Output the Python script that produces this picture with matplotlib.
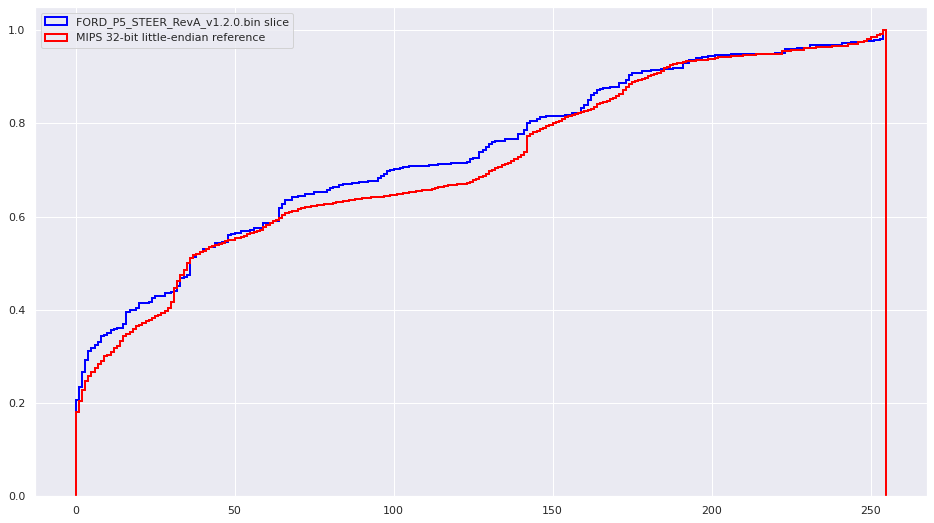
import numpy as np
import matplotlib
matplotlib.use("Agg")
import matplotlib.pyplot as plt
import seaborn as sns

# byte value bins 0..255
edges = np.arange(256)

# cumulative fraction of bytes <= value, one per bin
ford_cdf = [
    0.207, 0.235, 0.267, 0.293, 0.312, 0.318, 0.325, 0.331, 0.343, 0.346,
    0.349, 0.356, 0.359, 0.361, 0.361, 0.369, 0.396, 0.399, 0.400, 0.404,
    0.414, 0.415, 0.415, 0.416, 0.426, 0.429, 0.430, 0.430, 0.435, 0.436,
    0.438, 0.440, 0.450, 0.468, 0.470, 0.475, 0.510, 0.514, 0.519, 0.523,
    0.531, 0.531, 0.535, 0.535, 0.543, 0.543, 0.545, 0.545, 0.560, 0.563,
    0.565, 0.565, 0.568, 0.568, 0.568, 0.572, 0.575, 0.575, 0.575, 0.587,
    0.587, 0.587, 0.590, 0.590, 0.618, 0.626, 0.636, 0.636, 0.642, 0.642,
    0.645, 0.645, 0.649, 0.649, 0.649, 0.652, 0.652, 0.652, 0.652, 0.658,
    0.661, 0.663, 0.663, 0.668, 0.670, 0.670, 0.670, 0.672, 0.672, 0.674,
    0.674, 0.674, 0.676, 0.676, 0.676, 0.682, 0.687, 0.692, 0.697, 0.700,
    0.702, 0.702, 0.704, 0.706, 0.706, 0.708, 0.708, 0.709, 0.709, 0.709,
    0.709, 0.711, 0.711, 0.711, 0.712, 0.712, 0.712, 0.712, 0.714, 0.714,
    0.714, 0.714, 0.714, 0.718, 0.723, 0.725, 0.725, 0.739, 0.742, 0.750,
    0.756, 0.760, 0.763, 0.763, 0.763, 0.767, 0.767, 0.767, 0.767, 0.778,
    0.778, 0.786, 0.800, 0.806, 0.806, 0.810, 0.813, 0.813, 0.815, 0.815,
    0.815, 0.817, 0.817, 0.817, 0.818, 0.818, 0.823, 0.823, 0.823, 0.834,
    0.840, 0.850, 0.861, 0.866, 0.871, 0.873, 0.876, 0.876, 0.878, 0.878,
    0.878, 0.887, 0.887, 0.893, 0.905, 0.909, 0.909, 0.909, 0.912, 0.912,
    0.912, 0.914, 0.914, 0.914, 0.916, 0.916, 0.916, 0.916, 0.920, 0.920,
    0.920, 0.930, 0.930, 0.936, 0.936, 0.940, 0.940, 0.942, 0.943, 0.945,
    0.945, 0.947, 0.947, 0.947, 0.947, 0.947, 0.949, 0.949, 0.949, 0.949,
    0.949, 0.950, 0.950, 0.950, 0.950, 0.950, 0.950, 0.950, 0.950, 0.950,
    0.952, 0.952, 0.952, 0.960, 0.960, 0.960, 0.960, 0.963, 0.963, 0.963,
    0.963, 0.968, 0.968, 0.968, 0.968, 0.968, 0.969, 0.969, 0.969, 0.969,
    0.969, 0.972, 0.972, 0.972, 0.974, 0.974, 0.974, 0.974, 0.976, 0.976,
    0.976, 0.979, 0.979, 0.982, 1.000,
]

mips_cdf = [
    0.181, 0.203, 0.228, 0.247, 0.257, 0.267, 0.275, 0.284, 0.290, 0.300,
    0.303, 0.309, 0.318, 0.323, 0.332, 0.343, 0.348, 0.353, 0.358, 0.364,
    0.368, 0.371, 0.375, 0.378, 0.382, 0.386, 0.389, 0.393, 0.398, 0.404,
    0.416, 0.447, 0.461, 0.475, 0.486, 0.500, 0.512, 0.518, 0.520, 0.523,
    0.527, 0.530, 0.534, 0.537, 0.539, 0.542, 0.544, 0.547, 0.549, 0.550,
    0.553, 0.554, 0.557, 0.559, 0.563, 0.565, 0.567, 0.568, 0.572, 0.577,
    0.582, 0.586, 0.590, 0.593, 0.598, 0.604, 0.607, 0.609, 0.611, 0.613,
    0.616, 0.618, 0.620, 0.620, 0.622, 0.623, 0.624, 0.625, 0.626, 0.627,
    0.628, 0.629, 0.631, 0.632, 0.633, 0.634, 0.635, 0.636, 0.637, 0.638,
    0.639, 0.639, 0.640, 0.641, 0.642, 0.643, 0.643, 0.644, 0.645, 0.646,
    0.647, 0.648, 0.649, 0.650, 0.651, 0.652, 0.653, 0.654, 0.655, 0.656,
    0.657, 0.658, 0.660, 0.661, 0.663, 0.664, 0.666, 0.667, 0.667, 0.668,
    0.669, 0.669, 0.670, 0.672, 0.675, 0.678, 0.681, 0.684, 0.687, 0.691,
    0.697, 0.700, 0.704, 0.707, 0.710, 0.712, 0.715, 0.719, 0.724, 0.728,
    0.733, 0.738, 0.772, 0.778, 0.781, 0.784, 0.787, 0.790, 0.794, 0.797,
    0.800, 0.803, 0.806, 0.810, 0.813, 0.816, 0.819, 0.821, 0.823, 0.825,
    0.827, 0.829, 0.832, 0.836, 0.841, 0.844, 0.845, 0.848, 0.852, 0.855,
    0.858, 0.864, 0.871, 0.878, 0.884, 0.889, 0.891, 0.893, 0.896, 0.898,
    0.902, 0.904, 0.907, 0.909, 0.913, 0.918, 0.922, 0.925, 0.928, 0.929,
    0.930, 0.932, 0.933, 0.934, 0.935, 0.936, 0.936, 0.937, 0.937, 0.938,
    0.939, 0.940, 0.942, 0.942, 0.942, 0.942, 0.945, 0.945, 0.945, 0.945,
    0.947, 0.947, 0.947, 0.947, 0.950, 0.950, 0.950, 0.950, 0.950, 0.950,
    0.950, 0.950, 0.956, 0.956, 0.956, 0.958, 0.958, 0.958, 0.958, 0.962,
    0.962, 0.962, 0.962, 0.965, 0.965, 0.965, 0.965, 0.965, 0.967, 0.967,
    0.967, 0.967, 0.967, 0.970, 0.970, 0.970, 0.974, 0.974, 0.978, 0.982,
    0.985, 0.986, 0.989, 0.992, 1.000,
]

labels = ["FORD_P5_STEER_RevA_v1.2.0.bin slice", "MIPS 32-bit little-endian reference"]
colors = ["blue", "red"]

sns.set_theme()

fig = plt.figure(figsize=(934 / 72, 523 / 72), dpi=72)
ax = fig.add_axes([35 / 934, 27 / 523, 892 / 934, 489 / 523])

for cdf, lab, col in zip([ford_cdf, mips_cdf], labels, colors):
    ax.hist(edges[:-1], bins=edges, weights=cdf, histtype="step",
            color=col, linewidth=2, label=lab)

ax.legend(loc="upper left")

fig.savefig("out.png", dpi=72)
